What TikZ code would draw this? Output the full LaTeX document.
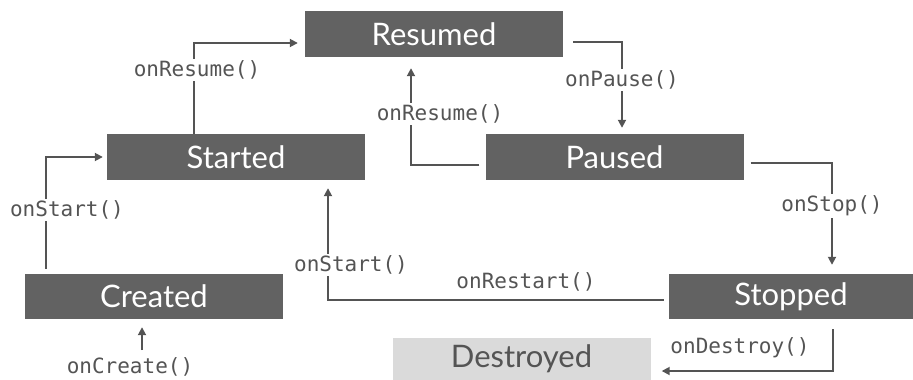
\documentclass[tikz,border=0pt]{standalone}
\usepackage{fontspec}
\setmainfont{Lato}
\setmonofont{DejaVu Sans Mono}
\usepackage{tikz}
\usetikzlibrary{arrows.meta}
\definecolor{boxgray}{HTML}{626262}
\definecolor{linegray}{HTML}{545454}
\definecolor{lightbox}{HTML}{DADADA}

\begin{document}
\begin{tikzpicture}[x=1pt, y=-1pt,
    state/.style={fill=boxgray, text=white, minimum width=258pt, minimum height=46pt,
      inner sep=0pt, font=\fontsize{31}{32}\selectfont},
    call/.style={fill=white, text=linegray, inner sep=2pt,
      font=\ttfamily\fontsize{21}{22}\selectfont},
    flow/.style={draw=linegray, line width=1.8pt, -{Triangle[length=8pt,width=8pt]}}]
            \useasboundingbox (0,0) rectangle (913,380);

            % States
            \node[state] (resumed) at (434,34) {Resumed};
            \node[state] (started) at (236,157) {Started};
            \node[state] (paused) at (614.5,157) {Paused};
            \node[state, minimum height=45pt] (created) at (154,296.5) {Created};
            \node[state, minimum width=244pt, minimum height=45pt] (stopped) at (791,296.5) {Stopped};
            \node[state, fill=lightbox, text=linegray, minimum height=42pt] (destroyed) at (521.5,359) {Destroyed};

            % Transitions
            \draw[flow, shorten >=7pt] ([xshift=-42pt]started.north) |- ([yshift=-9pt]resumed.west);
            \draw[flow, shorten <=10pt, shorten >=6pt] ([yshift=-8pt]resumed.east) -| ([xshift=7.5pt]paused.north);
            \draw[flow, shorten <=6pt, shorten >=11pt] ([yshift=-8pt]paused.west) -| ([xshift=-23pt]resumed.south);
            \draw[flow, shorten <=7pt, shorten >=9pt] ([yshift=-6pt]paused.east) -| ([xshift=41pt]stopped.north);
            \draw[flow, shorten <=5pt, shorten >=8pt] ([yshift=-3.5pt]stopped.west) -| ([xshift=92pt]started.south);
            \draw[flow, shorten <=5pt, shorten >=4pt] ([xshift=-108pt]created.north) |- (started.west);
            \draw[flow, shorten <=10pt, shorten >=11pt] ([xshift=42pt]stopped.south) |- ([yshift=-12pt]destroyed.east);
            \coordinate (launch) at (142,350);
            \draw[flow, shorten >=8pt] (launch) -- (launch |- created.south);

            % Callbacks
            \node[call] (resumecall) at (197,70) {onResume()};
            \node[call] (pausecall) at (622,80) {onPause()};
            \node[call] (resumecallb) at (440,114) {onResume()};
            \node[call] (stopcall) at (832,206) {onStop()};
            \node[call] (restartcall) at (526,282) {onRestart()};
            \node[call] (startcallb) at (351,265) {onStart()};
            \node[call] (startcall) at (67,210) {onStart()};
            \node[call] (createcall) at (130,367) {onCreate()};
            \node[call] (destroycall) at (740,348) {onDestroy()};
        \end{tikzpicture}
\end{document}
